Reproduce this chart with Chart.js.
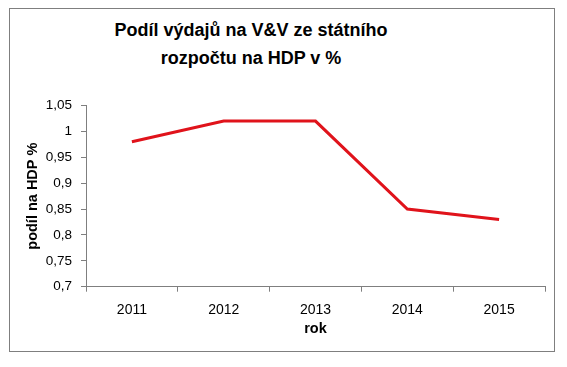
<!DOCTYPE html>
<html>
<head>
<meta charset="utf-8">
<script src="https://cdn.jsdelivr.net/npm/chart.js@4"></script>
<style>
  html, body { margin: 0; padding: 0; background: #fff; }
  body { width: 567px; height: 367px; position: relative; overflow: hidden; }
  #box { position: absolute; left: 9px; top: 8px; width: 544px; height: 342px; border: 1px solid #7f7f7f; }
  #title { position: absolute; left: 0; width: 482px; top: 8px; margin: 0; text-align: center;
           font: bold 18px "Liberation Sans", Arial, sans-serif; line-height: 27.5px; color: #000; }
  canvas { position: absolute; left: 0; top: 0; }
</style>
</head>
<body>
<div id="box">
  <h1 id="title">Podíl výdajů na V&amp;V ze státního<br>rozpočtu na HDP v %</h1>
  <canvas id="c" width="544" height="342"></canvas>
</div>
<script>
// Hodnoty
const years = ["2011", "2012", "2013", "2014", "2015"];
const shares = [0.98, 1.02, 1.02, 0.85, 0.83];
const yMin = 0.7, yMax = 1.05, yStep = 0.05;

const FONT = "'Liberation Sans', Arial, sans-serif";
const AXIS = "#7f7f7f";
const fmt = (v) => String(Number(v.toFixed(2))).replace(".", ",");

new Chart(document.getElementById("c"), {
  type: "line",
  data: {
    labels: years,
    datasets: [{
      data: shares,
      borderColor: "#e0131b",
      borderWidth: 3,
      pointRadius: 0,
      tension: 0,
      fill: false,
    }],
  },
  options: {
    responsive: false,
    animation: false,
    layout: { padding: { top: 96.6, right: 9, left: 0, bottom: 0 } },
    plugins: { legend: { display: false }, tooltip: { enabled: false }, title: { display: false } },
    scales: {
      x: {
        offset: true,
        grid: { offset: true, drawOnChartArea: false, tickLength: 5, color: AXIS },
        border: { color: AXIS, width: 1 },
        ticks: { color: "#000", font: { family: FONT, size: 14 }, padding: 10, maxRotation: 0 },
        title: { display: true, text: "rok", color: "#000", font: { family: FONT, size: 14.5, weight: "bold" }, padding: { bottom: 13 } },
        afterFit: (s) => { s.height = 64.3; },
      },
      y: {
        min: yMin,
        max: yMax,
        grid: { drawOnChartArea: false, tickLength: 5, color: AXIS },
        border: { color: AXIS, width: 1 },
        ticks: { stepSize: yStep, color: "#000", font: { family: FONT, size: 13.5 }, padding: 9, callback: (v) => fmt(v) },
        title: { display: true, text: "podíl na HDP %", color: "#000", font: { family: FONT, size: 14.5, weight: "bold" }, padding: { top: 14 } },
        afterFit: (s) => { s.width = 76; },
      },
    },
  },
});
</script>
</body>
</html>
